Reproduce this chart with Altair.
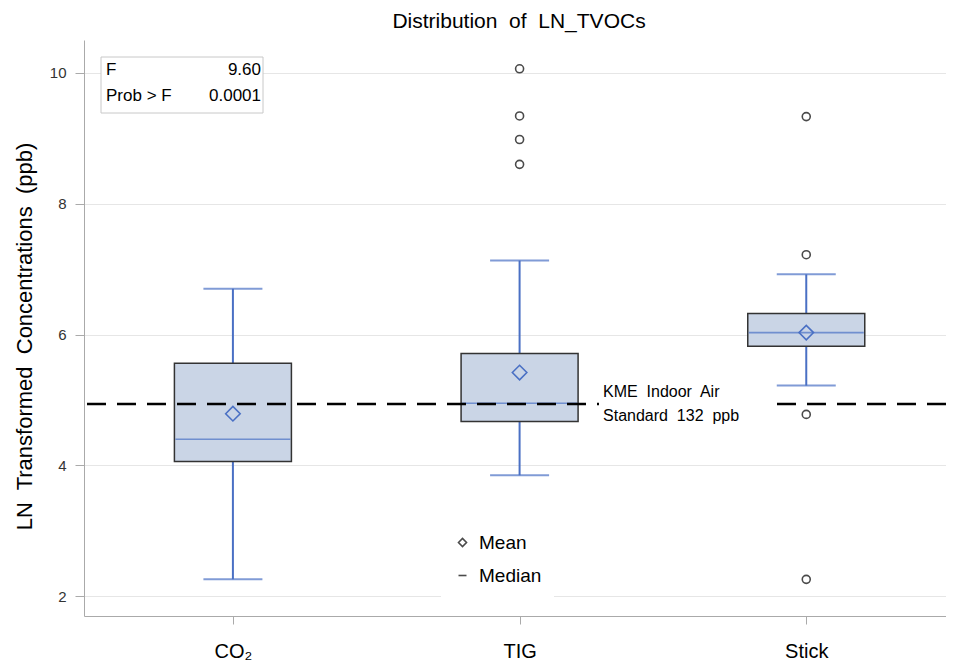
import json
import altair as alt
import pandas as pd

# ---- data ----
categories = ["CO₂", "TIG", "Stick"]
q1 = [4.06, 4.67, 5.82]
median = [4.40, 4.95, 6.03]
q3 = [5.56, 5.71, 6.32]
mean = [4.79, 5.42, 6.03]
whisker_low = [2.26, 3.85, 5.22]
whisker_high = [6.70, 7.13, 6.92]
outlier_group = ["TIG", "TIG", "TIG", "TIG", "Stick", "Stick", "Stick", "Stick"]
outlier_value = [10.06, 9.34, 8.98, 8.60, 9.33, 7.22, 4.78, 2.26]
reference_value = [4.94]
reference_label = ["KME\u00a0 Indoor\u00a0 Air", "Standard\u00a0 132\u00a0 ppb"]
stat_names = ["F", "Prob\u00a0>\u00a0F"]
stat_values = ["9.60", "0.0001"]
legend_items = ["Mean", "Median"]
y_ticks = [2, 4, 6, 8, 10]
title_text = "Distribution\u00a0 of\u00a0 LN_TVOCs"
y_title = "LN\u00a0 Transformed\u00a0 Concentrations\u00a0 (ppb)"

# ---- styles ----
FONT = "Liberation Sans"
BLUE = "#4a70c4"
FILL = "#cad5e6"

pos = list(range(1, len(categories) + 1))
box_df = pd.DataFrame({
    "cat": categories, "pos": pos, "q1": q1, "median": median, "q3": q3,
    "mean": mean, "lo": whisker_low, "hi": whisker_high,
})
out_df = pd.DataFrame({
    "pos": [categories.index(g) + 1 for g in outlier_group],
    "value": outlier_value,
})
ref_df = pd.DataFrame({"ref": reference_value})
one = pd.DataFrame({"a": [0]})
leg_df = pd.DataFrame({"stat": legend_items})

xs = alt.Scale(domain=[0.498, 3.470], nice=False, zero=False)
ys = alt.Scale(domain=[1.7, 10.5], nice=False, zero=False)

label_expr = json.dumps(categories, ensure_ascii=False) + "[datum.value - 1]"
X = alt.X("pos:Q", scale=xs, title=None,
          axis=alt.Axis(values=pos, labelExpr=label_expr, grid=False,
                        labelFont=FONT, labelFontSize=20,
                        labelColor="black", labelPadding=17, tickSize=8,
                        tickColor="#aaaaaa", domainColor="#aaaaaa"))
Y_AXIS = alt.Axis(values=y_ticks, format="d", grid=True, gridColor="#e6e6e6",
                  labelFont=FONT, labelFontSize=15, labelColor="#333333",
                  labelPadding=9, tickSize=9, tickColor="#aaaaaa",
                  domainColor="#aaaaaa",
                  title=y_title, titleY=296,
                  titleFont=FONT, titleFontSize=22, titleFontWeight="normal",
                  titleColor="black", titlePadding=13)

base = alt.Chart(box_df)

whisker = base.mark_rule(color=BLUE, strokeWidth=2).encode(
    x=X, y=alt.Y("lo:Q", scale=ys, axis=Y_AXIS), y2="hi:Q")

caps = base.transform_fold(["lo", "hi"], as_=["k", "v"]).mark_tick(
    orient="horizontal", size=59, thickness=2, color=BLUE).encode(
    x="pos:Q", y="v:Q")

box = base.mark_bar(size=117, fill=FILL, stroke="#333333", strokeWidth=1.5).encode(
    x="pos:Q", y="q1:Q", y2="q3:Q")

med = base.mark_tick(orient="horizontal", size=115, thickness=1.6, color=BLUE).encode(
    x="pos:Q", y="median:Q")

mn = base.mark_point(shape="diamond", filled=False, size=210, color=BLUE,
                     strokeWidth=1.6, opacity=1).encode(x="pos:Q", y="mean:Q")

outl = alt.Chart(out_df).mark_point(shape="circle", filled=False, size=64,
                                    color="#4a4a4a", strokeWidth=1.6,
                                    opacity=1).encode(x="pos:Q", y="value:Q")

ref = alt.Chart(ref_df).mark_rule(color="black", strokeWidth=2.6,
                                  strokeDash=[19, 11]).encode(y="ref:Q")

ref_bg = alt.Chart(one).mark_rect(color="white").encode(
    x=alt.datum(2.277), x2=alt.datum(2.874),
    y=alt.datum(4.60), y2=alt.datum(5.30))

ref_txt = alt.Chart(ref_df).mark_text(
    text=reference_label, align="left", baseline="middle", font=FONT,
    fontSize=16, lineHeight=24, dy=-12, color="black").encode(
    x=alt.datum(2.291), y="ref:Q")

stat_box = alt.Chart(one).mark_rect(fill="white", stroke="#c8c8c8", strokeWidth=1).encode(
    x=alt.value(17), x2=alt.value(179), y=alt.value(17), y2=alt.value(73))

stat_layers = []
for i, (nm, vl) in enumerate(zip(stat_names, stat_values)):
    yv = 30 + 26 * i
    stat_layers.append(alt.Chart(one).mark_text(
        text=nm, align="left", baseline="middle", font=FONT, fontSize=17,
        color="black").encode(x=alt.value(22), y=alt.value(yv)))
    stat_layers.append(alt.Chart(one).mark_text(
        text=vl, align="right", baseline="middle", font=FONT, fontSize=17,
        color="black").encode(x=alt.value(177), y=alt.value(yv)))

legend_layer = alt.Chart(leg_df).mark_point(
    filled=False, color="black", clip=True, strokeWidth=1.5).encode(
    x=alt.value(-60), y=alt.value(-60),
    shape=alt.Shape("stat:N",
                    scale=alt.Scale(domain=legend_items,
                                    range=["diamond", "M-1,0L1,0"]),
                    legend=alt.Legend(orient="none", legendX=357, legendY=481,
                                      title=None, labelFont=FONT,
                                      labelFontSize=19, labelColor="black",
                                      symbolSize=64, symbolStrokeWidth=1.6,
                                      symbolStrokeColor="black",
                                      labelOffset=7, rowPadding=13,
                                      padding=12, fillColor="white")))

chart = alt.layer(
    whisker, caps, box, med, mn, outl, ref, ref_bg, ref_txt,
    stat_box, *stat_layers, legend_layer,
).properties(
    width=862, height=576,
    title=alt.TitleParams(title_text, font=FONT, fontSize=21, dx=4,
                          fontWeight="normal", color="black", offset=8),
    autosize=alt.AutoSizeParams(type="none"),
    padding={"left": 76, "top": 32, "right": 0, "bottom": 44},
).configure_view(strokeWidth=0)

chart.save("out.html", embed_options={"renderer": "svg", "actions": False})
